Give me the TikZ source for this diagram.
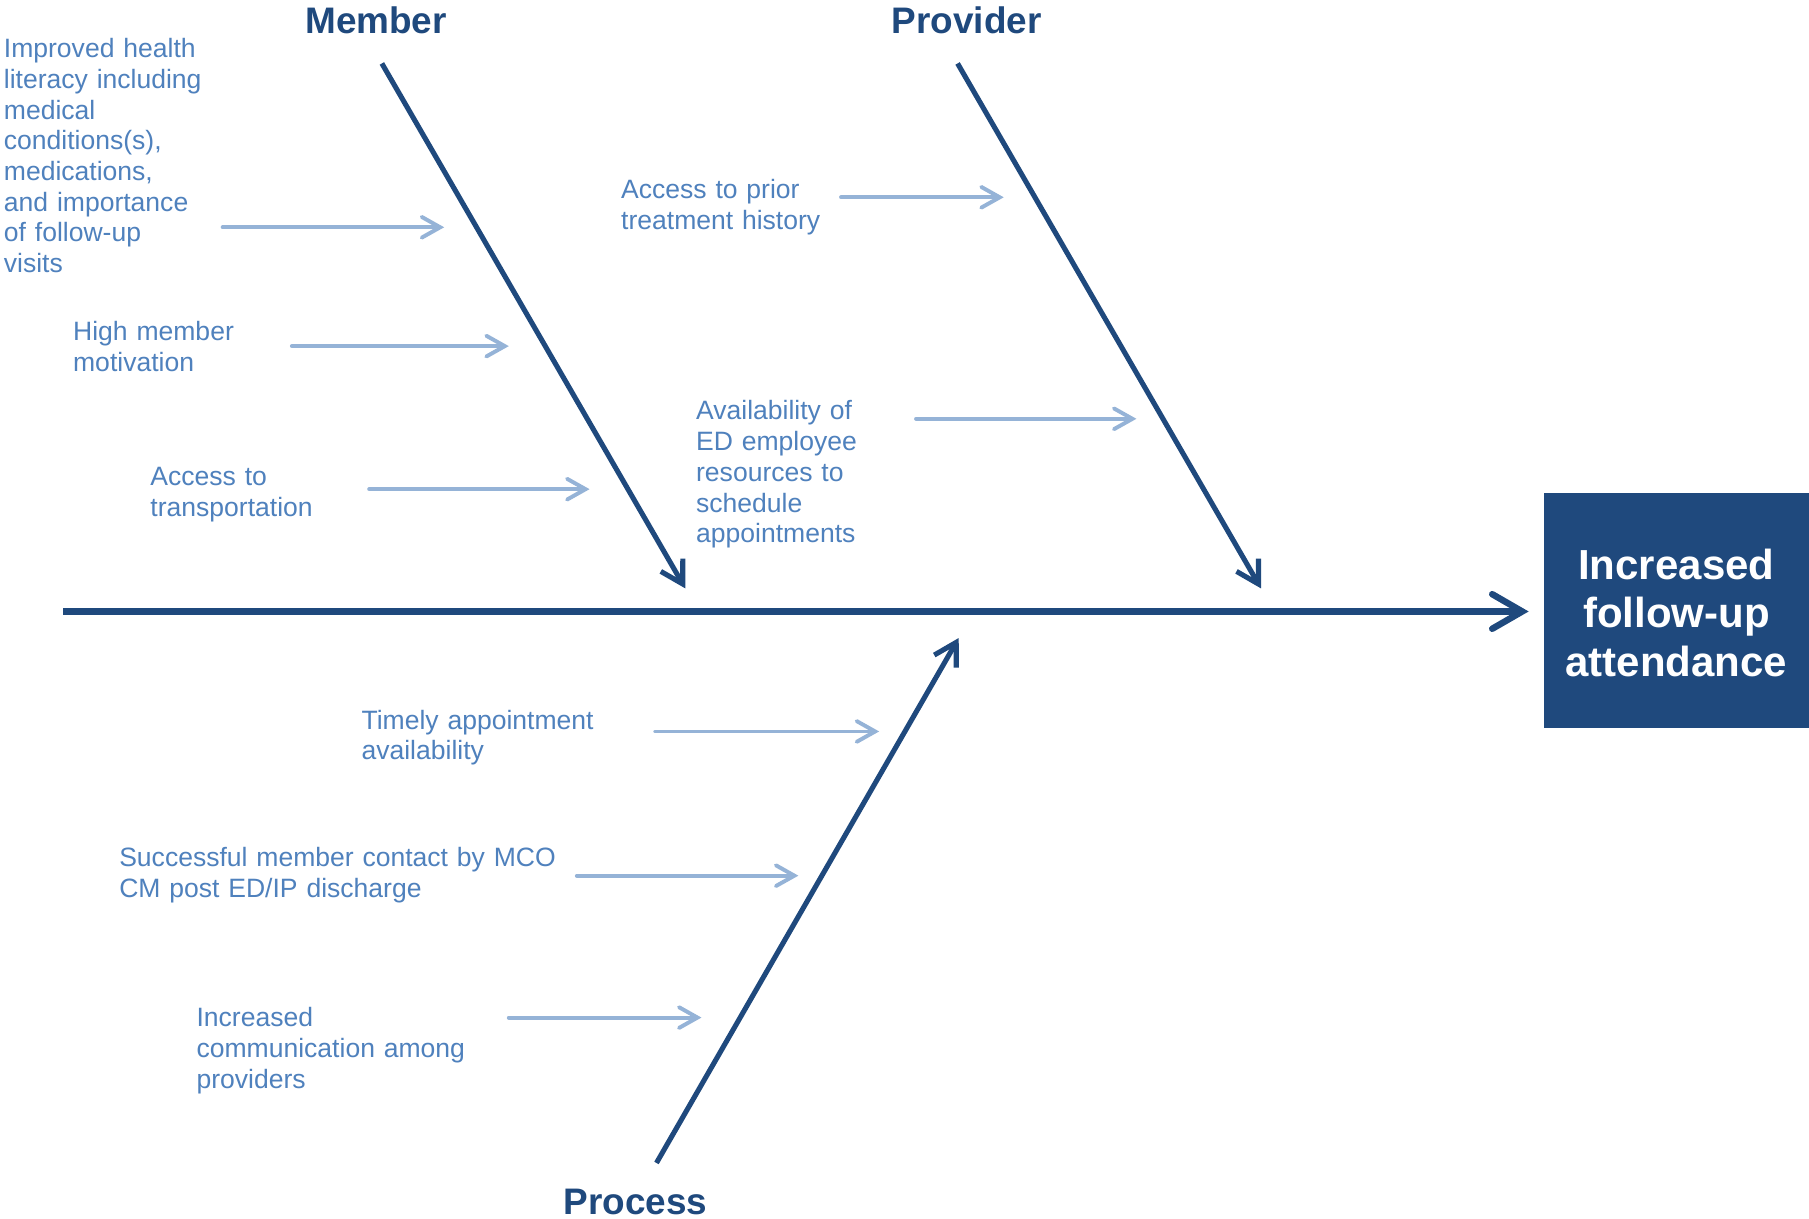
\documentclass[tikz,border=0pt]{standalone}
\usepackage{fontspec}
\setmainfont{Liberation Sans}
\usetikzlibrary{arrows.meta}
\definecolor{dark}{HTML}{1F497D}
\definecolor{light}{HTML}{95B3D7}
\definecolor{txt}{HTML}{4F81BD}
\begin{document}
\begin{tikzpicture}[x=0.5pt,y=-0.5pt,
  cause/.style={text=txt, font=\fontsize{11.5}{13.3}\selectfont, align=left, text width=220pt, inner sep=0pt, anchor=base west},
  cat/.style={text=dark, font=\fontsize{16}{19}\selectfont\bfseries, inner sep=0pt, anchor=base},
  subarrow/.style={draw=light, line width=1.7pt, line cap=round, -{Straight Barb[length=8pt,width=9pt,line cap=round]}},
  bone/.style={draw=dark, line width=2.2pt, -{Straight Barb[length=9.5pt,width=11pt]}},
  spinearrow/.style={draw=dark, line width=2.8pt, -{Straight Barb[length=13pt,width=15pt,line cap=round]}}]
\useasboundingbox (0,0) rectangle (1568,1056);
\fill[white] (0,0) rectangle (1568,1056);

% effect box
\node (effect) [fill=dark, inner sep=0pt, minimum width=115pt, minimum height=102pt] at (1453,529) {};
\node (effecttext) [text=white, font=\fontsize{18.2}{21}\selectfont\bfseries, align=center, inner sep=0pt] at (1453,531) {Increased\\follow-up\\attendance};

% spine
\coordinate (spS) at (55,530);
\coordinate (spE) at (1325,530);
\draw[spinearrow] (spS) -- (spE);

% categories
\node[cat] (member) at (326,29) {Member};
\node[cat] (provider) at (838,29) {Provider};
\node[cat] (process) at (551,1053) {Process};

% bones
\coordinate (mS) at (331,55);  \coordinate (mE) at (594,510);
\coordinate (pS) at (830,55);  \coordinate (pE) at (1093,510);
\coordinate (rS) at (569,1008); \coordinate (rE) at (831,553);
\draw[bone] (mS) -- (mE);
\draw[bone] (pS) -- (pE);
\draw[bone] (rS) -- (rE);

% member causes
\node[cause] (c1) at (3,50) {Improved health\\literacy including\\medical\\conditions(s),\\medications,\\and importance\\of follow-up\\visits};
\node[cause] (c2) at (63,295) {High member\\motivation};
\node[cause] (c3) at (130,421) {Access to\\transportation};
\coordinate (c1s) at (193,197); \coordinate (c1e) at (385,197);
\coordinate (c2s) at (253,300); \coordinate (c2e) at (441,300);
\coordinate (c3s) at (320,424); \coordinate (c3e) at (511,424);
\draw[subarrow] (c1s) -- (c1e);
\draw[subarrow] (c2s) -- (c2e);
\draw[subarrow] (c3s) -- (c3e);

% provider causes
\node[cause] (c4) at (538,172) {Access to prior\\treatment history};
\node[cause] (c5) at (603,364) {Availability of\\ED employee\\resources to\\schedule\\appointments};
\coordinate (c4s) at (729,171); \coordinate (c4e) at (870,171);
\coordinate (c5s) at (794,363); \coordinate (c5e) at (985,363);
\draw[subarrow] (c4s) -- (c4e);
\draw[subarrow] (c5s) -- (c5e);

% process causes
\node[cause] (c6) at (313,632) {Timely appointment\\availability};
\node[cause] (c7) at (103,751) {Successful member contact by MCO\\CM post ED/IP discharge};
\node[cause] (c8) at (170,890) {Increased\\communication among\\providers};
\coordinate (c6s) at (568,634); \coordinate (c6e) at (762,634);
\coordinate (c7s) at (500,759); \coordinate (c7e) at (692,759);
\coordinate (c8s) at (441,882); \coordinate (c8e) at (608,882);
\draw[subarrow] (c6s) -- (c6e);
\draw[subarrow] (c7s) -- (c7e);
\draw[subarrow] (c8s) -- (c8e);
\end{tikzpicture}
\end{document}
